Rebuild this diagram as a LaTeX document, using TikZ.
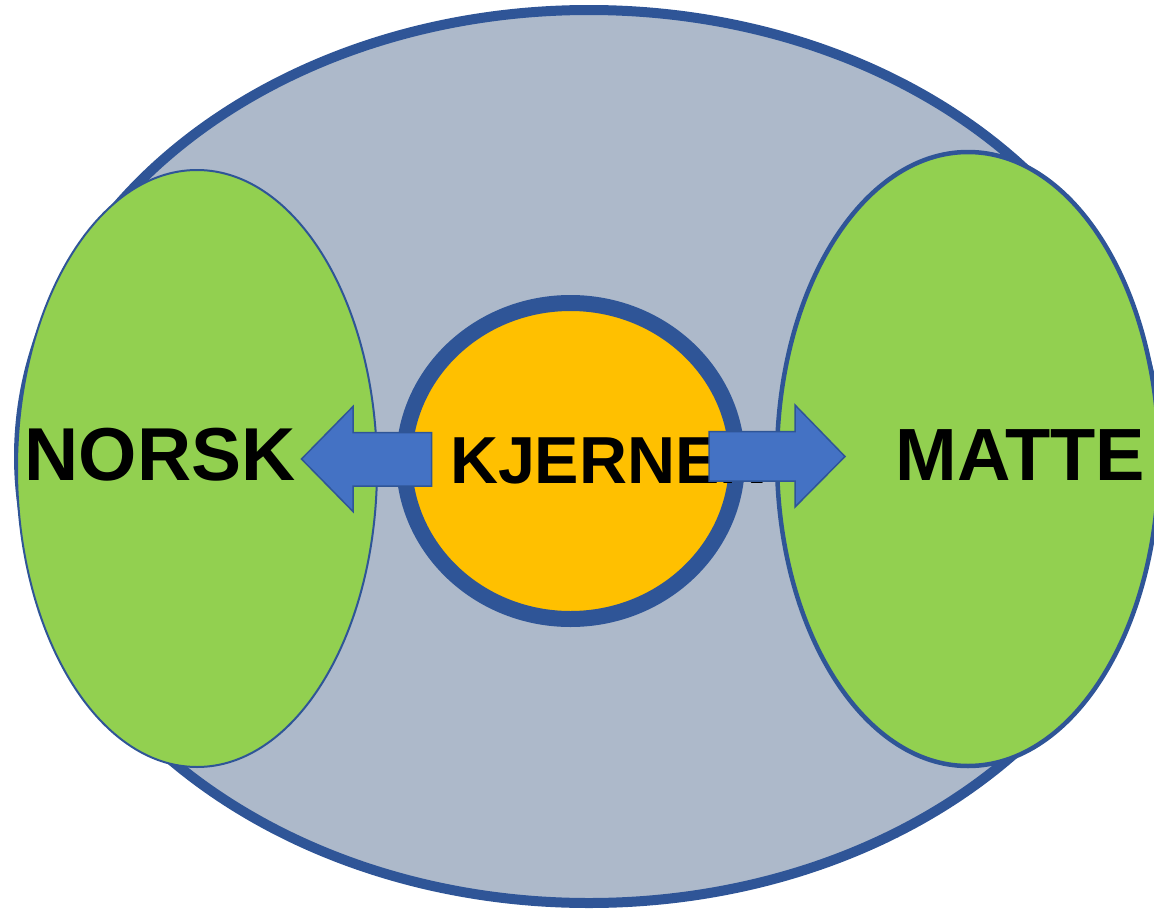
\documentclass[tikz,border=0pt]{standalone}
\usepackage{fontspec}
\setmainfont{Liberation Sans}
\usetikzlibrary{shapes.geometric}
\definecolor{outerfill}{HTML}{ADB9CA}
\definecolor{darkblue}{HTML}{2F5597}
\definecolor{leaf}{HTML}{92D050}
\definecolor{gold}{HTML}{FFC000}
\definecolor{arrowblue}{HTML}{4472C4}
\tikzset{
  oval/.style={ellipse, inner sep=0pt, outer sep=0pt, draw=darkblue},
  blockarrow/.style={fill=arrowblue, draw=darkblue, line width=1.5pt, line join=miter},
  bigtext/.style={inner sep=0pt, outer sep=0pt, anchor=base west, font=\bfseries\fontsize{#1}{#1}\selectfont}
}
\begin{document}
\begin{tikzpicture}[x=1pt, y=-1pt]
\useasboundingbox (0,0) rectangle (1154,910);
\node[oval, fill=outerfill, line width=10pt, minimum width=1140pt, minimum height=893pt] (outer) at (589,456.5) {};
\node[oval, fill=leaf, line width=2pt, minimum width=360pt, minimum height=597pt] (norskoval) at (197,468.5) {};
\node[oval, fill=leaf, line width=4.5pt, minimum width=382pt, minimum height=614pt] (matteoval) at (968,459) {};
\node[oval, fill=gold, line width=16pt, minimum width=333pt, minimum height=316pt] (core) at (570.5,461) {};
\node[bigtext=66.5] (kjernen) at (450,483) {KJERNEN};
\draw[blockarrow] (431.5,432.5) -- (353,432.5) -- (353,406.5) -- (301.5,459) -- (353,511.5) -- (353,486) -- (431.5,486) -- cycle;
\draw[blockarrow] (709,431.5) -- (795,431.5) -- (795,405) -- (845,456.5) -- (795,507) -- (795,481) -- (709,481) -- cycle;
\node[bigtext=75] (norsk) at (24.5,480) {NORSK};
\node[bigtext=74] (matte) at (895.5,480) {MATTE};
\end{tikzpicture}
\end{document}
